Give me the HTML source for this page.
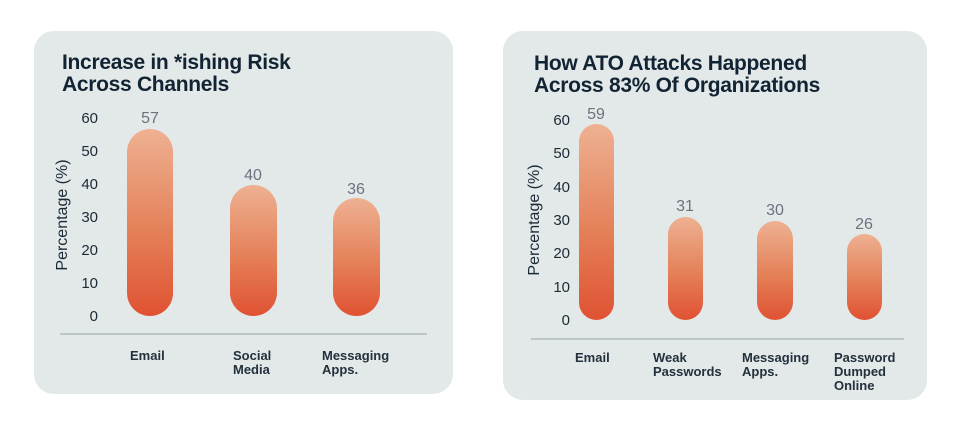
<!DOCTYPE html>
<html><head><style>
body{margin:0;width:958px;height:437px;background:#fff;position:relative;font-family:"Liberation Sans",sans-serif;overflow:hidden}
.card{position:absolute;background:#e3e8e8;border-radius:20px}
.t{position:absolute;font-weight:bold;color:#122433;font-size:21px;line-height:22px;letter-spacing:-0.3px}
.y{position:absolute;width:30px;text-align:right;font-size:15px;color:#1b2a36;line-height:14px}
.bar{position:absolute;border-radius:30px;background:linear-gradient(#eeb192,#e48058 55%,#e05232)}
.v{position:absolute;width:60px;text-align:center;font-size:16px;color:#6c7280;line-height:15px}
.ax{position:absolute;height:2px;background:#bcc6c8}
.c{position:absolute;font-size:13px;font-weight:bold;color:#23313d;line-height:14px}
.yt{position:absolute;transform:rotate(-90deg);font-size:16px;color:#1b2a36;white-space:nowrap;width:140px;text-align:center}
</style></head><body>
<div class="card" style="left:34px;top:31px;width:419px;height:363px"></div>
<div class="card" style="left:503px;top:31px;width:424px;height:369px"></div>

<div class="t" style="left:62px;top:52px">Increase in *ishing Risk<br>Across Channels</div>
<div class="yt" style="left:-7px;top:206px">Percentage (%)</div>
<div class="y" style="left:68px;top:112px">60</div>
<div class="y" style="left:68px;top:145px">50</div>
<div class="y" style="left:68px;top:178px">40</div>
<div class="y" style="left:68px;top:211px">30</div>
<div class="y" style="left:68px;top:244px">20</div>
<div class="y" style="left:68px;top:277px">10</div>
<div class="y" style="left:68px;top:310px">0</div>
<div class="bar" style="left:127px;top:129px;width:46px;height:187px"></div>
<div class="bar" style="left:230px;top:185px;width:47px;height:131px"></div>
<div class="bar" style="left:333px;top:198px;width:47px;height:118px"></div>
<div class="v" style="left:120px;top:111px">57</div>
<div class="v" style="left:223px;top:168px">40</div>
<div class="v" style="left:326px;top:182px">36</div>
<div class="ax" style="left:60px;top:333px;width:367px"></div>
<div class="c" style="left:130px;top:349px">Email</div>
<div class="c" style="left:233px;top:349px">Social<br>Media</div>
<div class="c" style="left:322px;top:349px">Messaging<br>Apps.</div>

<div class="t" style="left:534px;top:53px">How ATO Attacks Happened<br>Across 83% Of Organizations</div>
<div class="yt" style="left:465px;top:211px">Percentage (%)</div>
<div class="y" style="left:540px;top:114px">60</div>
<div class="y" style="left:540px;top:147px">50</div>
<div class="y" style="left:540px;top:181px">40</div>
<div class="y" style="left:540px;top:214px">30</div>
<div class="y" style="left:540px;top:247px">20</div>
<div class="y" style="left:540px;top:281px">10</div>
<div class="y" style="left:540px;top:314px">0</div>
<div class="bar" style="left:579px;top:124px;width:35px;height:196px"></div>
<div class="bar" style="left:668px;top:217px;width:35px;height:103px"></div>
<div class="bar" style="left:757px;top:221px;width:36px;height:99px"></div>
<div class="bar" style="left:847px;top:234px;width:35px;height:86px"></div>
<div class="v" style="left:566px;top:107px">59</div>
<div class="v" style="left:655px;top:199px">31</div>
<div class="v" style="left:745px;top:203px">30</div>
<div class="v" style="left:834px;top:217px">26</div>
<div class="ax" style="left:531px;top:338px;width:373px"></div>
<div class="c" style="left:575px;top:351px">Email</div>
<div class="c" style="left:653px;top:351px">Weak<br>Passwords</div>
<div class="c" style="left:742px;top:351px">Messaging<br>Apps.</div>
<div class="c" style="left:834px;top:351px">Password<br>Dumped<br>Online</div>
</body></html>
